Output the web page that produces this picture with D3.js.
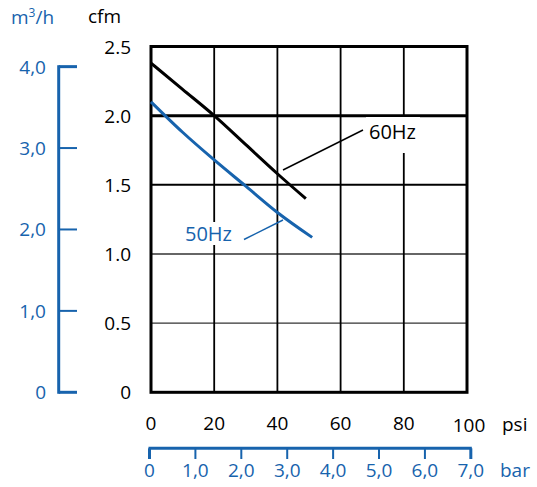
<!DOCTYPE html>
<html><head><meta charset="utf-8">
<script src="https://cdn.jsdelivr.net/npm/d3@7"></script>
<style>body{margin:0;background:#fff}svg{display:block}text{font-family:"Open Sans",sans-serif}</style>
</head><body><svg width="537" height="487"></svg>
<script>
const psiTicks = [0, 20, 40, 60, 80, 100];
const cfmTicks = [0, 0.5, 1.0, 1.5, 2.0, 2.5];
const cfmTickLabels = ["0", "0.5", "1.0", "1.5", "2.0", "2.5"];
const m3hTicks = [0, 1, 2, 3, 4];
const m3hTickLabels = ["0", "1,0", "2,0", "3,0", "4,0"];
const barTicks = [0, 1, 2, 3, 4, 5, 6, 7];
const barTickLabels = ["0", "1,0", "2,0", "3,0", "4,0", "5,0", "6,0", "7,0"];
const series60Psi = [0, 10, 20, 30, 40, 49];
const series60Cfm = [2.38, 2.19, 2.0, 1.79, 1.58, 1.40];
const series50Psi = [0, 10, 20, 30, 40, 51];
const series50Cfm = [2.10, 1.88, 1.68, 1.49, 1.30, 1.12];

const BLUE = "#1763ad";
const svg = d3.select("svg");
const x = d3.scaleLinear().domain([0, 100]).range([151, 467]);
const y = d3.scaleLinear().domain([0, 2.5]).range([392.3, 46.5]);
const CFM_PER_M3H = 0.5886;
const PSI_PER_BAR = 14.5038;
const yM = d3.scaleLinear().domain([0, 4]).range([y(0), y(4 * CFM_PER_M3H)]);
const xB = d3.scaleLinear().domain([0, 7]).range([x(0) - 1.5, x(7 * PSI_PER_BAR) - 1]);

// grid
const gw = {0.5: 1.3, 1.0: 1.6, 1.5: 2, 2.0: 3};
svg.append("g").selectAll("line").data(cfmTicks.filter(d => d > 0 && d < 2.5)).join("line")
  .attr("x1", x(0)).attr("x2", x(100)).attr("y1", d => y(d)).attr("y2", d => y(d))
  .attr("stroke", d => d < 1.2 ? "#333" : "#000").attr("stroke-width", d => gw[d]);
svg.append("g").selectAll("line").data(psiTicks.filter(d => d > 0 && d < 100)).join("line")
  .attr("x1", d => x(d)).attr("x2", d => x(d)).attr("y1", y(0)).attr("y2", y(2.5))
  .attr("stroke", "#000").attr("stroke-width", 1.8);
// frame
svg.append("rect").attr("x", x(0)).attr("y", y(2.5)).attr("width", x(100) - x(0)).attr("height", y(0) - y(2.5))
  .attr("fill", "none").attr("stroke", "#000").attr("stroke-width", 3);

// label backgrounds
svg.append("rect").attr("x", 366).attr("y", 117).attr("width", 54).attr("height", 36).attr("fill", "#fff");
svg.append("rect").attr("x", 183).attr("y", 222).attr("width", 52).attr("height", 23).attr("fill", "#fff");

const line = d3.line().x(d => x(d[0])).y(d => y(d[1])).curve(d3.curveMonotoneX);
svg.append("path").datum(series60Psi.map((p, i) => [p, series60Cfm[i]]))
  .attr("d", line).attr("fill", "none").attr("stroke", "#000").attr("stroke-width", 3);
svg.append("path").datum(series50Psi.map((p, i) => [p, series50Cfm[i]]))
  .attr("d", line).attr("fill", "none").attr("stroke", BLUE).attr("stroke-width", 3);

// annotations
svg.append("line").attr("x1", 363).attr("y1", 130).attr("x2", 283).attr("y2", 170).attr("stroke", "#000").attr("stroke-width", 1.5);
svg.append("text").attr("x", 369).attr("y", 139).attr("font-size", 20).attr("fill", "#000").text("60Hz");
svg.append("line").attr("x1", 244).attr("y1", 239.5).attr("x2", 283).attr("y2", 220).attr("stroke", BLUE).attr("stroke-width", 1.5);
svg.append("text").attr("x", 185).attr("y", 241).attr("font-size", 20).attr("fill", BLUE).text("50Hz");

// cfm labels
svg.append("g").selectAll("text").data(cfmTicks).join("text")
  .attr("x", 131).attr("y", d => y(d) + 7).attr("text-anchor", "end").attr("font-size", 19)
  .attr("fill", "#000").text((d, i) => cfmTickLabels[i]);
svg.append("text").attr("x", 88).attr("y", 23).attr("font-size", 19).attr("fill", "#000").text("cfm");

// psi labels
svg.append("g").selectAll("text").data(psiTicks).join("text")
  .attr("x", d => x(d) + (d === 100 ? 2 : 0)).attr("y", d => 430 + (d === 100 ? 2 : 0)).attr("text-anchor", "middle").attr("font-size", 19)
  .attr("fill", "#000").text(d => d);
svg.append("text").attr("x", 502).attr("y", 431).attr("font-size", 19).attr("fill", "#000").text("psi");

// m3/h axis
const gm = svg.append("g");
gm.append("line").attr("x1", 58.7).attr("x2", 58.7).attr("y1", yM(4) - 1.5).attr("y2", yM(0) + 1.5).attr("stroke", BLUE).attr("stroke-width", 3);
gm.selectAll("line.t").data(m3hTicks).join("line").attr("class", "t")
  .attr("x1", 58.7).attr("x2", 77).attr("y1", d => yM(d)).attr("y2", d => yM(d))
  .attr("stroke", BLUE).attr("stroke-width", d => (d === 0 || d === 4) ? 3 : 2);
gm.selectAll("text").data(m3hTicks).join("text")
  .attr("x", 46).attr("y", d => yM(d) + 7).attr("text-anchor", "end").attr("font-size", 19)
  .attr("fill", BLUE).text((d, i) => m3hTickLabels[i]);
svg.append("text").attr("x", 11).attr("y", 24).attr("font-size", 19).attr("fill", BLUE)
  .text("m").append("tspan").attr("font-size", 12).attr("dy", -7).text("3")
  .select(function(){return this.parentNode;}).append("tspan").attr("dy", 7).attr("font-size", 19).text("/h");

// bar axis
const gb = svg.append("g");
gb.append("line").attr("x1", xB(0) - 1).attr("x2", xB(7) + 1).attr("y1", 448.3).attr("y2", 448.3).attr("stroke", BLUE).attr("stroke-width", 3);
gb.selectAll("line.t").data(barTicks).join("line").attr("class", "t")
  .attr("x1", d => xB(d)).attr("x2", d => xB(d)).attr("y1", 448.3).attr("y2", 459)
  .attr("stroke", BLUE).attr("stroke-width", d => (d === 0 || d === 7) ? 3 : 2);
gb.selectAll("text").data(barTicks).join("text")
  .attr("x", d => xB(d)).attr("y", 477).attr("text-anchor", "middle").attr("font-size", 19)
  .attr("fill", BLUE).text((d, i) => barTickLabels[i]);
svg.append("text").attr("x", 500).attr("y", 477).attr("font-size", 19).attr("fill", BLUE).text("bar");
</script></body></html>
